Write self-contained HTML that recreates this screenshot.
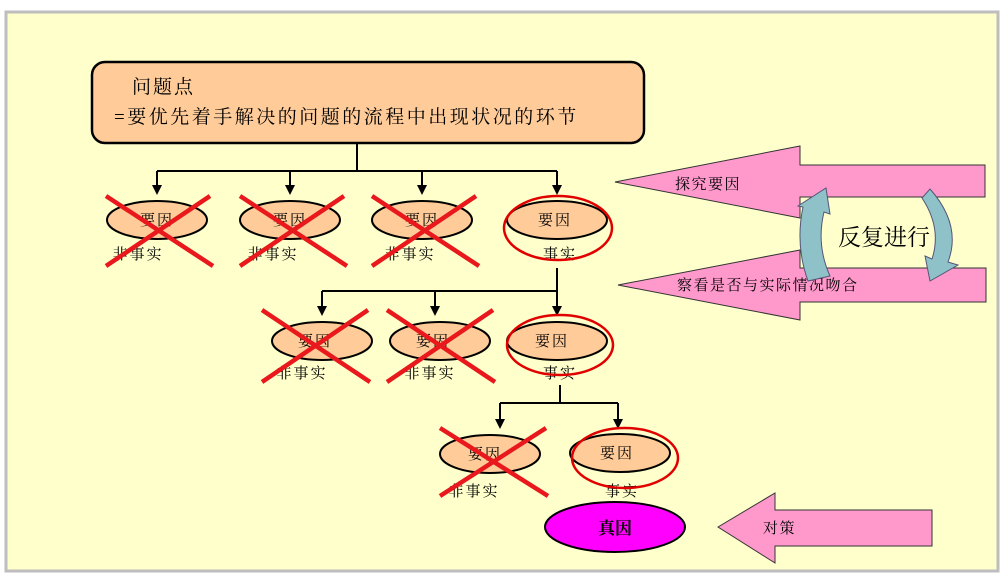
<!DOCTYPE html>
<html><head><meta charset="utf-8"><style>
body{margin:0;background:#fff;}
svg{display:block;font-family:"Liberation Serif","Noto Serif CJK SC","WenQuanYi Zen Hei",serif;}
</style></head><body>
<svg width="1004" height="579" viewBox="0 0 1004 579">
<rect x="6" y="12" width="992" height="559" fill="#FFFFCC" stroke="#BEBEBE" stroke-width="3"/>
<rect x="92" y="62" width="552" height="81" rx="13" fill="#FFCC99" stroke="#000" stroke-width="2.5"/>
<text x="132" y="93" font-size="19" letter-spacing="2">问题点</text>
<text x="114" y="123" font-size="19" letter-spacing="2.5">=要优先着手解决的问题的流程中出现状况的环节</text>
<g stroke="#000" stroke-width="2" fill="none">
<path d="M357 143 V171 M157 171 H557 M157 171 V186 M290 171 V186 M422 171 V186 M557 171 V186"/>
<path d="M557 268 V291 M322 291 H557 M322 291 V307 M435 291 V307 M557 291 V307"/>
<path d="M560 385 V403 M500 403 H618 M500 403 V420 M618 403 V420"/>
</g>
<g fill="#000">
<path d="M152 185 h10 l-5 10z M285 185 h10 l-5 10z M417 185 h10 l-5 10z M552 185 h10 l-5 10z"/>
<path d="M317 306 h10 l-5 10z M430 306 h10 l-5 10z M552 306 h10 l-5 10z"/>
<path d="M495 419 h10 l-5 10z M613 419 h10 l-5 10z"/>
</g>
<g fill="#FFCC99" stroke="#000" stroke-width="2">
<ellipse cx="157" cy="220" rx="50" ry="19"/><ellipse cx="290" cy="220" rx="50" ry="19"/>
<ellipse cx="422" cy="220" rx="50" ry="19"/><ellipse cx="557" cy="220" rx="50" ry="19"/>
<ellipse cx="322" cy="341" rx="50" ry="19"/><ellipse cx="440" cy="341" rx="50" ry="19"/>
<ellipse cx="557" cy="341" rx="50" ry="19"/>
<ellipse cx="490" cy="454" rx="50" ry="19"/><ellipse cx="620" cy="453" rx="50" ry="19"/>
</g>
<g font-size="15" text-anchor="middle" letter-spacing="2">
<text x="157" y="225">要因</text><text x="290" y="225">要因</text><text x="422" y="225">要因</text><text x="555" y="225">要因</text>
<text x="138" y="259">非事实</text><text x="273" y="259">非事实</text><text x="410" y="259">非事实</text><text x="560" y="259">事实</text>
<text x="315" y="346">要因</text><text x="433" y="346">要因</text><text x="552" y="346">要因</text>
<text x="302" y="378">非事实</text><text x="430" y="378">非事实</text><text x="560" y="378">事实</text>
<text x="485" y="459">要因</text><text x="617" y="458">要因</text>
<text x="474" y="496">非事实</text><text x="622" y="496">事实</text>
</g>
<g fill="none" stroke="#E00000" stroke-width="2.5">
<ellipse cx="558" cy="228" rx="54" ry="32"/>
<ellipse cx="560" cy="345" rx="53" ry="30"/>
<ellipse cx="625" cy="458" rx="53" ry="30"/>
</g>
<g stroke="#E8181C" stroke-width="4.5">
<path d="M106 196 L213 266 M210 196 L106 266"/>
<path d="M240 196 L347 266 M344 196 L240 266"/>
<path d="M372 196 L479 266 M476 196 L372 266"/>
<path d="M262 310 L370 382 M368 310 L262 382"/>
<path d="M387 310 L495 382 M493 310 L387 382"/>
<path d="M440 428 L548 496 M546 428 L440 496"/>
</g>
<ellipse cx="615" cy="527" rx="70" ry="25" fill="#FF00FF" stroke="#000" stroke-width="2"/>
<text x="615" y="534" font-size="17" font-weight="bold" text-anchor="middle">真因</text>
<g fill="#FF99CC" stroke="#333" stroke-width="1">
<path d="M615 182 L800 146 V165 H985 V197 H800 V218 Z"/>
<path d="M618 285 L800 250 V268 H986 V302 H800 V320 Z"/>
<path d="M718 527 L775 493 V510 H932 V546 H775 V563 Z"/>
</g>
<text x="675" y="189" font-size="15" letter-spacing="1.5">探究要因</text>
<text x="677" y="290" font-size="15" letter-spacing="1.5">察看是否与实际情况吻合</text>
<text x="763" y="533" font-size="15" letter-spacing="1.5">对策</text>
<g fill="#8FC1C8" stroke="#557" stroke-width="1">
<path d="M808 281 Q795 245 803 207 L798 206 L826 188 L830 214 L824 212 Q816 245 830 276 Z"/>
<path d="M930 189 Q962 225 948 262 L958 265 L930 281 L925 256 L932 259 Q942 228 922 198 Z"/>
</g>
<text x="884" y="245" font-size="23" text-anchor="middle">反复进行</text>
</svg>
</body></html>
